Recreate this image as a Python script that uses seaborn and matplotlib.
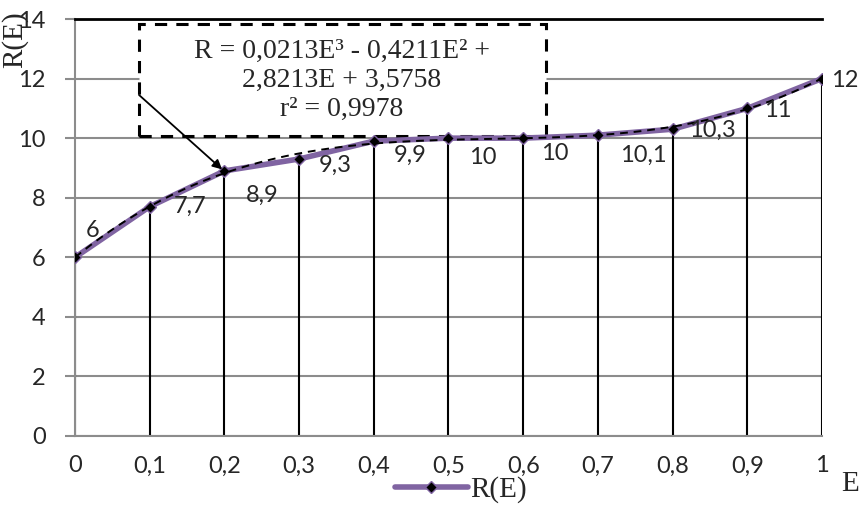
import numpy as np
import pandas as pd
import matplotlib
matplotlib.use("Agg")
import matplotlib.pyplot as plt
import seaborn as sns
from matplotlib.patches import Rectangle
from matplotlib.lines import Line2D

# dados
E_vals = [0.0, 0.1, 0.2, 0.3, 0.4, 0.5, 0.6, 0.7, 0.8, 0.9, 1.0]
R_vals = [6, 7.7, 8.9, 9.3, 9.9, 10, 10, 10.1, 10.3, 11, 12]
rotulos_x = ["0", "0,1", "0,2", "0,3", "0,4", "0,5", "0,6", "0,7", "0,8", "0,9", "1"]
# coeficientes da linha de tendência (x = índice do ponto, 1..11)
coef_tendencia = [0.0213, -0.4211, 2.8213, 3.5758]
texto_eq = "R = 0,0213E³ - 0,4211E² +\n2,8213E + 3,5758\nr² = 0,9978"

# deslocamento dos rótulos de dados (pixels)
desloc = [(18, 27), (40, 0), (38, -24), (36, -6), (36, -14), (34, -19),
          (32, -15), (45, -20), (40, -1), (30, -2), (23, -2)]

roxo = "#8064A2"
cinza = "#8c8c8c"

sns.set_style("white")
plt.rcParams["font.family"] = ["Lato", "DejaVu Sans"]

df = pd.DataFrame({"E": E_vals, "R": R_vals})

fig = plt.figure(figsize=(8.61, 5.07), dpi=100)
ax = fig.add_axes([75 / 861, 1 - 436 / 507, (822 - 75) / 861, (436 - 19) / 507])

# linhas de grade horizontais
ax.set_ylim(0, 14)
ax.set_xlim(0, 1)
ax.set_yticks(range(0, 15, 2))
ax.yaxis.grid(True, color=cinza, lw=1.5, zorder=0)
ax.set_axisbelow(True)

# linhas de queda até o eixo
ax.vlines(df["E"], 0, df["R"], color="black", lw=1.5, zorder=2)

# linha principal
sns.lineplot(data=df, x="E", y="R", ax=ax, color=roxo, lw=4, marker="D",
             markersize=6, markerfacecolor="black", markeredgecolor=roxo,
             markeredgewidth=1, zorder=4, legend=False)

# linha de tendência polinomial
t = np.linspace(1, 11, 200)
ax.plot((t - 1) / 10, np.polyval(coef_tendencia, t), color="black", lw=1.4,
        dashes=(4, 3), zorder=5)

# rótulos de dados
for e, r, (dx, dy) in zip(E_vals, R_vals, desloc):
    ax.annotate(f"{r:g}".replace(".", ","), (e, r), xytext=(dx, dy),
                textcoords="offset pixels", ha="center", va="center",
                fontsize=17, zorder=6)

# caixa da equação
caixa = Rectangle((0.0857, 10.07), 0.6305 - 0.0857, 13.83 - 10.07,
                  facecolor="white", edgecolor="black", lw=2.2, ls=(0, (4, 3)),
                  zorder=3)
ax.add_patch(caixa)
ax.text(0.357, 11.93, texto_eq, ha="center", va="center", fontsize=20,
        family="Liberation Serif", linespacing=1.2, zorder=6)
ax.annotate("", xy=(0.197, 8.95), xytext=(0.0857, 11.45),
            arrowprops=dict(arrowstyle="-|>", color="black", lw=1.3,
                            mutation_scale=14, shrinkA=0, shrinkB=0), zorder=6)

# eixos
ax.spines["right"].set_visible(False)
ax.spines["top"].set_color("black")
ax.spines["top"].set_linewidth(2)
ax.spines["left"].set_color(cinza)
ax.spines["left"].set_linewidth(1.5)
ax.spines["bottom"].set_color(cinza)
ax.spines["bottom"].set_linewidth(1.5)

ax.set_xticks(E_vals)
ax.set_xticklabels(rotulos_x)
ax.tick_params(axis="x", length=0, pad=14, labelsize=17)
ax.tick_params(axis="y", length=7, width=1.5, color=cinza, direction="out",
               labelsize=17, pad=14, left=True)
ax.set_xlabel("")
ax.set_ylabel("")

fig.text(15 / 861, 1 - 40 / 507, "R(E)", rotation=90, ha="center", va="center",
         fontsize=21, family="Liberation Serif")
fig.text(850 / 861, 1 - 484 / 507, "E", ha="center", va="center",
         fontsize=21, family="Liberation Serif")

alca = Line2D([], [], color=roxo, lw=4, marker="D", markersize=6,
              markerfacecolor="black", markeredgecolor=roxo)
fig.legend([alca], ["R(E)"], loc="center", bbox_to_anchor=(461 / 861, 1 - 490 / 507),
           frameon=False, prop={"family": "Liberation Serif", "size": 21},
           handlelength=2.5, handletextpad=0.1, borderpad=0)

fig.savefig("out.png", dpi=100)
